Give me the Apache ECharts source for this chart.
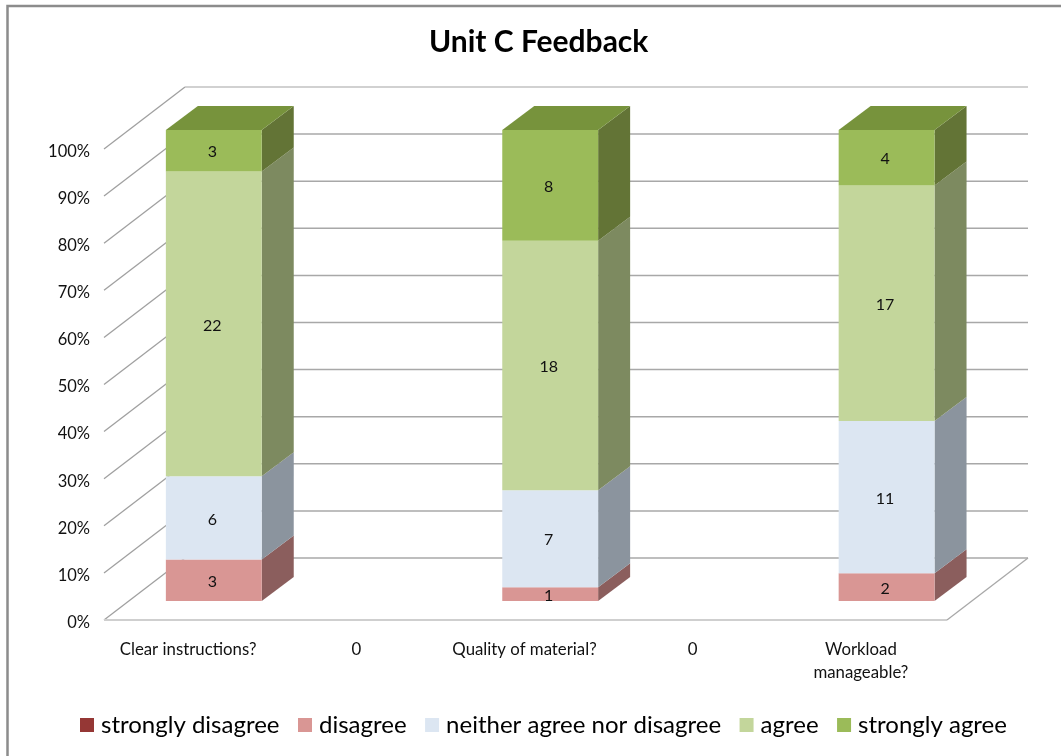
<!DOCTYPE html>
<html><head><meta charset="utf-8">
<style>html,body{margin:0;padding:0;background:#fff}#c{width:1061px;height:756px}</style>
<script src="https://cdn.jsdelivr.net/npm/echarts@6/dist/echarts.min.js"></script>
</head><body><div id="c"></div>
<script>
var categories = ['Clear instructions?', '0', 'Quality of material?', '0', 'Workload\nmanageable?'];
var stronglyDisagree = [0, 0, 0, 0, 0];
var disagree = [3, 0, 1, 0, 2];
var neither = [6, 0, 7, 0, 11];
var agree = [22, 0, 18, 0, 17];
var stronglyAgree = [3, 0, 8, 0, 4];
var valueTicks = [0, 10, 20, 30, 40, 50, 60, 70, 80, 90, 100];

var groups = [
  {name: 'strongly disagree', values: stronglyDisagree, front: '#953735', side: '#5f2a29'},
  {name: 'disagree', values: disagree, front: '#d99694', side: '#8b5e5d'},
  {name: 'neither agree nor disagree', values: neither, front: '#dce6f2', side: '#8b949e'},
  {name: 'agree', values: agree, front: '#c3d69b', side: '#7d8a60'},
  {name: 'strongly agree', values: stronglyAgree, front: '#9bbb59', side: '#637436'}
];
var topColor = '#77933c';
var FONT = 'Lato';
var WALL = [81, -62], BAR_NEAR = [25.7, -19], BAR_FAR = [57.7, -43], FLOOR_EXTRA = 2;

function totals(i) { return groups.reduce(function (s, g) { return s + g.values[i]; }, 0); }

function off(p, o) { return [p[0] + o[0], p[1] + o[1]]; }
function poly(points, color) {
  return {type: 'polygon', shape: {points: points}, style: {fill: color}};
}

function gridRender(params, api) {
  var v = api.value(0);
  var a = api.coord([0, v]);
  var cs = params.coordSys;
  var l = [cs.x, a[1]], b = off(l, WALL), r = [cs.x + cs.width + FLOOR_EXTRA, a[1]];
  var c = off(r, WALL);
  var kids = [];
  kids.push({type: 'line', shape: {x1: l[0], y1: l[1], x2: b[0], y2: b[1]}, style: {stroke: '#a0a0a0', lineWidth: 1.3}});
  kids.push({type: 'line', shape: {x1: b[0], y1: b[1], x2: c[0], y2: c[1]}, style: {stroke: v === 100 ? '#c2c2c2' : '#a8a8a8', lineWidth: 1.5}});
  if (v === 0) {
    kids.push({type: 'line', shape: {x1: l[0], y1: l[1], x2: r[0], y2: r[1]}, style: {stroke: '#cfcfcf', lineWidth: 2}});
    kids.push({type: 'line', shape: {x1: r[0], y1: r[1], x2: c[0], y2: c[1]}, style: {stroke: '#a8a8a8', lineWidth: 1.3}});
  }
  return {type: 'group', children: kids};
}

function makeRender(group) {
  return function (params, api) {
    var cat = api.value(0), base = api.value(1), top = api.value(2), n = api.value(3), isTop = api.value(4);
    if (!n) return null;
    var half = api.size([1, 0])[0] * 0.285;
    var p0 = api.coord([cat, base]), p1 = api.coord([cat, top]);
    var fx0 = p0[0] - half + BAR_NEAR[0], fx1 = p0[0] + half + BAR_NEAR[0];
    var fy0 = p0[1] + BAR_NEAR[1], fy1 = p1[1] + BAR_NEAR[1];
    var dx = BAR_FAR[0] - BAR_NEAR[0], dy = BAR_FAR[1] - BAR_NEAR[1];
    var kids = [
      poly([[fx1, fy0], [fx1 + dx, fy0 + dy], [fx1 + dx, fy1 + dy], [fx1, fy1]], group.side),
      poly([[fx0, fy0], [fx1, fy0], [fx1, fy1], [fx0, fy1]], group.front)
    ];
    if (isTop) kids.push(poly([[fx0, fy1], [fx0 + dx, fy1 + dy], [fx1 + dx, fy1 + dy], [fx1, fy1]], topColor));
    kids.push({type: 'text', z2: 10, style: {x: (fx0 + fx1) / 2 - 1.5, y: (fy0 + fy1) / 2 + 1.5, text: String(n), fill: '#111', font: '16px ' + FONT, align: 'center', verticalAlign: 'middle'}});
    return {type: 'group', children: kids};
  };
}

var stack = categories.map(function () { return 0; });
var barSeries = groups.map(function (g, k) {
  var data = g.values.map(function (n, i) {
    var t = totals(i) || 1;
    var base = stack[i] / t * 100;
    stack[i] += n;
    var top = stack[i] / t * 100;
    var last = n > 0 && groups.slice(k + 1).every(function (h) { return !h.values[i]; });
    return [i, base, top, n, last ? 1 : 0];
  });
  return {
    type: 'custom', name: g.name, data: data, renderItem: makeRender(g), silent: true, z: 3,
    itemStyle: {color: g.front}, encode: {x: 0, y: 2}, clip: false
  };
});

var chart = echarts.init(document.getElementById('c'), null, {renderer: 'canvas'});
chart.setOption({
  animation: false,
  backgroundColor: '#fff',
  title: {text: 'Unit C Feedback', left: 424, top: 22,
    textStyle: {fontFamily: FONT, fontWeight: 'bold', fontSize: 30, color: '#000'}},
  graphic: [{type: 'rect', silent: true, shape: {x: 7.5, y: 6, width: 1060, height: 780},
    style: {fill: 'transparent', stroke: '#8c8c8c', lineWidth: 2.5}}],
  legend: {
    data: groups.map(function (g) { return g.name; }), left: 75, top: 708, icon: 'rect',
    itemWidth: 14, itemHeight: 14, itemGap: 18.5,
    textStyle: {fontFamily: FONT, fontSize: 24, color: '#000', padding: [0, 0, 0, 2]}
  },
  grid: {left: 104, right: 116, top: 149, bottom: 136, containLabel: false},
  xAxis: {type: 'category', data: categories, axisLine: {show: false}, axisTick: {show: false},
    axisLabel: {interval: 0, margin: 18, fontFamily: FONT, fontSize: 16.8, lineHeight: 23, color: '#111'}},
  yAxis: {type: 'value', min: 0, max: 100, interval: 10, axisLine: {show: false}, axisTick: {show: false},
    splitLine: {show: false},
    axisLabel: {margin: 14, formatter: '{t|{value}%}',
      rich: {t: {fontFamily: FONT, fontSize: 16.5, color: '#111', padding: [5, 0, 0, 0]}}}},
  series: [{type: 'custom', name: 'gridlines', data: valueTicks.map(function (v) { return [v]; }),
    renderItem: gridRender, silent: true, z: 1, encode: {y: 0}, clip: false}].concat(barSeries)
});
</script></body></html>
